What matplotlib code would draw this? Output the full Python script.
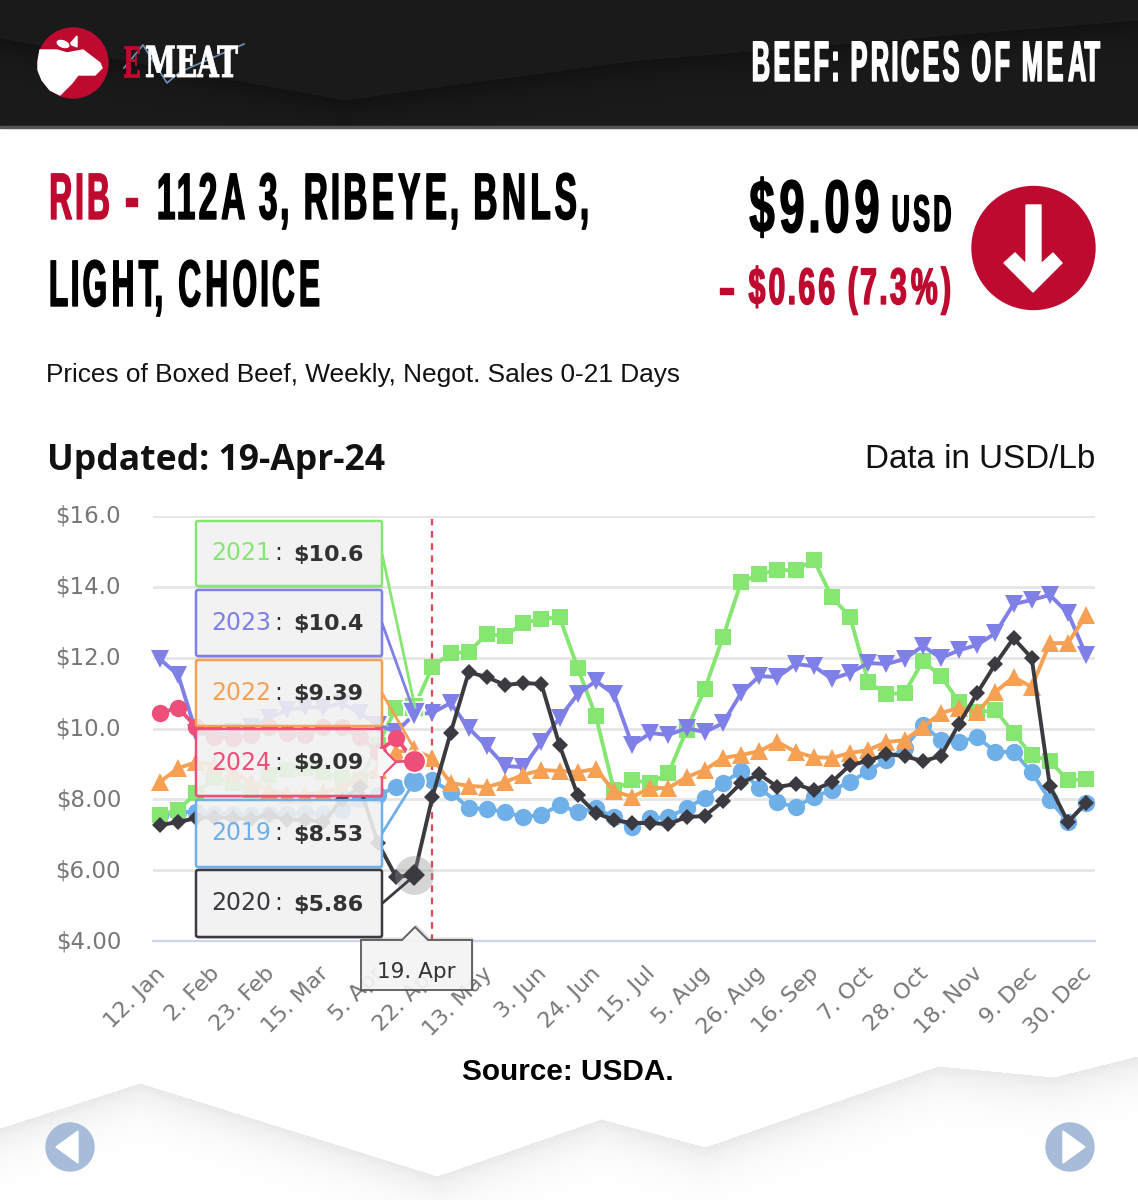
import numpy as np
import matplotlib
matplotlib.use("Agg")
import matplotlib.pyplot as plt
import matplotlib.patheffects as pe
from matplotlib.path import Path
from matplotlib.patches import Polygon, Circle, Ellipse, Rectangle, FancyBboxPatch
from matplotlib.transforms import Affine2D

weeks = np.arange(52)
tick_labels = ["12. Jan", "2. Feb", "23. Feb", "15. Mar", "5. Apr", "22. Apr", "13. May", "3. Jun", "24. Jun",
               "15. Jul", "5. Aug", "26. Aug", "16. Sep", "7. Oct", "28. Oct", "18. Nov", "9. Dec", "30. Dec"]
y_ticks = [4, 6, 8, 10, 12, 14, 16]
y_labels = ["$4.00", "$6.00", "$8.00", "$10.0", "$12.0", "$14.0", "$16.0"]

p2019 = [7.56, 7.64, 7.64, 7.6, 7.6, 7.55, 7.58, 7.6, 7.62, 7.6, 7.7, 8.0, 8.12, 8.35, 8.53, 8.54, 8.21, 7.75, 7.73,
         7.64, 7.5, 7.56, 7.84, 7.64, 7.75, 7.5, 7.22, 7.47, 7.5, 7.75, 8.04, 8.46, 8.8, 8.32, 7.92, 7.78, 8.07, 8.26,
         8.49, 8.8, 9.11, 9.45, 10.1, 9.67, 9.62, 9.76, 9.34, 9.34, 8.77, 7.98, 7.36, 7.9]
p2020 = [7.27, 7.36, 7.47, 7.5, 7.47, 7.44, 7.56, 7.42, 7.42, 7.36, 7.98, 8.35, 6.77, 5.81, 5.86, 8.07, 9.87, 11.59,
         11.45, 11.23, 11.28, 11.26, 9.53, 8.12, 7.61, 7.42, 7.33, 7.33, 7.3, 7.5, 7.53, 7.95, 8.46, 8.71, 8.35, 8.43,
         8.26, 8.49, 8.97, 9.08, 9.28, 9.22, 9.08, 9.22, 10.13, 11.0, 11.82, 12.55, 11.99, 8.38, 7.36, 7.9]
p2021 = [7.56, 7.7, 8.18, 8.6, 8.46, 8.26, 8.69, 8.83, 8.88, 8.77, 8.6, 8.55, 9.53, 10.58, 10.6, 11.74, 12.13, 12.16,
         12.67, 12.61, 12.98, 13.09, 13.15, 11.71, 10.35, 8.26, 8.54, 8.46, 8.74, 9.96, 11.11, 12.58, 14.13, 14.36,
         14.47, 14.47, 14.76, 13.71, 13.15, 11.31, 10.97, 11.0, 11.9, 11.48, 10.75, 10.46, 10.52, 9.87, 9.25, 9.08,
         8.54, 8.57]
p2022 = [8.49, 8.88, 9.05, 8.97, 8.77, 8.49, 8.26, 8.12, 8.12, 8.21, 8.32, 8.6, 8.83, 9.34, 9.39, 9.17, 8.46, 8.38,
         8.35, 8.49, 8.69, 8.83, 8.8, 8.77, 8.86, 8.23, 8.07, 8.32, 8.32, 8.63, 8.83, 9.17, 9.25, 9.36, 9.62, 9.34,
         9.19, 9.17, 9.31, 9.39, 9.62, 9.67, 10.04, 10.44, 10.58, 10.46, 11.03, 11.45, 11.17, 12.41, 12.41, 13.2]
p2023 = [11.96, 11.51, 9.87, 9.82, 9.9, 10.04, 10.3, 10.52, 10.61, 10.58, 10.72, 10.44, 10.1, 9.9, 10.4, 10.44, 10.72,
         10.01, 9.5, 8.94, 8.91, 9.62, 10.3, 10.97, 11.34, 10.97, 9.53, 9.87, 9.82, 10.01, 9.9, 10.15, 11.0, 11.48,
         11.45, 11.82, 11.76, 11.4, 11.57, 11.85, 11.82, 11.96, 12.33, 11.99, 12.21, 12.36, 12.69, 13.51, 13.63, 13.77,
         13.26, 12.07]
p2024 = [10.44, 10.58, 10.04, 9.76, 9.73, 9.82, 10.04, 9.87, 9.82, 10.04, 10.04, 9.76, 9.34, 9.73, 9.09]

c2019, c2020, c2021, c2022, c2023, c2024 = "#6fb0e8", "#3a3a40", "#86e672", "#f5a053", "#7f7fe8", "#ee4f78"
red = "#bf0a30"

W, H = 1138, 1200
fig = plt.figure(figsize=(W / 100, H / 100), dpi=100, facecolor="white")


def thin_glyphs(tpath, g):
    # narrows each glyph about its own centre, which opens the gaps between letters
    v = tpath.vertices.copy()
    starts = np.flatnonzero(tpath.codes == Path.MOVETO).tolist() + [len(v)]
    parts = []
    for a, b in zip(starts[:-1], starts[1:]):
        keep = tpath.codes[a:b] != Path.CLOSEPOLY
        parts.append((v[a:b][keep, 0].min(), v[a:b][keep, 0].max(), a, b))
    parts.sort()
    i = 0
    while i < len(parts):
        lo, hi = parts[i][:2]
        j = i + 1
        while j < len(parts) and parts[j][0] < hi:
            hi = max(hi, parts[j][1])
            j += 1
        c = (lo + hi) / 2
        for _, _, a, b in parts[i:j]:
            v[a:b, 0] = c + (v[a:b, 0] - c) * g
        i = j
    return Path(v, tpath.codes)


# squeezes a text sideways so a wide font can stand in for the poster font
class Squeeze(pe.AbstractPathEffect):
    def __init__(self, x0, sx, stroke=0.0, g=1.0):
        super().__init__()
        self.x0, self.sx, self.stroke, self.g = x0, sx, stroke, g

    def draw_path(self, renderer, gc, tpath, affine, rgbFace=None):
        t = affine + Affine2D().translate(-self.x0, 0).scale(self.sx, 1).translate(self.x0, 0)
        gc2 = renderer.new_gc()
        gc2.copy_properties(gc)
        gc2.set_linewidth(self.stroke)
        gc2.set_foreground(rgbFace)
        renderer.draw_path(gc2, thin_glyphs(tpath, self.g), t, rgbFace)
        gc2.restore()


def fit_text(ax, x0, x1, base, cap, s, color, family="Liberation Sans", weight="bold", stroke=1.0, g=0.84):
    size = cap / 0.70 * 0.72
    t = ax.text(x0, base, s, color=color, fontsize=size, family=family, weight=weight, ha="left", va="baseline")
    box = t.get_window_extent(fig.canvas.get_renderer())
    t.set_path_effects([Squeeze(box.x0, (x1 - x0) / box.width, stroke, g)])
    return t


def shade_below(ax, xs, ys, y0, y1, base, strength, reach):
    # soft shadow that fades away under a zigzag line
    grid_x = np.arange(W)
    line = np.interp(grid_x, xs, ys)
    rows = np.arange(y0, y1)[:, None]
    d = rows - line[None, :]
    img = np.where(d >= 0, base - strength * np.exp(-d / reach), base)
    ax.imshow(img, extent=(0, W, y1, y0), cmap="gray", vmin=0, vmax=1, aspect="auto", zorder=0, interpolation="bilinear")


# page furniture, in pixel coordinates
bg = fig.add_axes([0, 0, 1, 1], zorder=0)
shade_below(bg, [0, 345, 400, 640, 1138], [38, 100, 92, 60, 20], 0, 126, 0.105, 0.035, 18)
bg.add_patch(Rectangle((0, 126), W, 2, color="#555555", zorder=1))
shade_below(bg, [0, 140, 437, 601, 705, 938, 1054, 1138], [1128, 1083, 1176, 1119, 1147, 1066, 1077, 1056],
            1040, 1200, 1.0, 0.09, 22)
bg.set_xlim(0, W)
bg.set_ylim(H, 0)
bg.axis("off")

# logo
bg.add_patch(Circle((73, 63), 35, color=red, zorder=2))
cow = [(38, 62), (40, 50), (57, 50), (67, 53), (83, 50), (100, 63), (102, 68), (95, 75), (78, 75), (72, 83), (60, 95),
       (50, 90), (42, 80), (38, 70)]
bg.add_patch(Polygon(cow, color="white", zorder=3))
bg.add_patch(Ellipse((63, 44), 15, 9, angle=20, fc="white", ec=red, lw=1, zorder=4))
bg.add_patch(Polygon([(70, 44), (77, 36), (77, 47)], color="white", zorder=3))
bg.plot([124, 143, 167, 180, 244], [68, 45, 83, 72, 44], color="#6f93b8", lw=1.2, zorder=3)
fit_text(bg, 123, 140, 77, 30, "E", red, family="DejaVu Serif", stroke=0.6, g=1).set_zorder(4)
fit_text(bg, 145, 238, 77, 30, "MEAT", "white", family="DejaVu Serif", stroke=0.6, g=1).set_zorder(4)

fit_text(bg, 750, 1103, 81, 40, "BEEF: PRICES OF MEAT", "white")

fit_text(bg, 47, 112, 219, 46, "RIB", red)
fit_text(bg, 124, 139, 219, 46, "-", red, g=1)
fit_text(bg, 155, 590, 219, 46, "112A 3, RIBEYE, BNLS,", "black")
fit_text(bg, 47, 322, 306, 46, "LIGHT, CHOICE", "black")
fit_text(bg, 747, 882, 232, 52, "$9.09", "black")
fit_text(bg, 890, 953, 231, 36, "USD", "black")
fit_text(bg, 718, 735, 304, 36, "-", red, g=1)
fit_text(bg, 747, 952, 304, 36, "$0.66 (7.3%)", red)
bg.add_patch(Circle((1033.5, 248), 61.5, color=red, zorder=2))
bg.add_patch(Polygon([(1026, 205), (1041, 205), (1041, 264), (1053, 253), (1062, 263), (1033, 292), (1004, 263),
                      (1015, 253), (1026, 264)], color="white", zorder=3))

bg.text(46, 382, "Prices of Boxed Beef, Weekly, Negot. Sales 0-21 Days", fontsize=18.9, family="Liberation Sans",
        color="#111111")
bg.text(47, 470, "Updated: 19-Apr-24", fontsize=25.6, family="Open Sans", weight="bold", color="#111111")
bg.text(1095, 468, "Data in USD/Lb", fontsize=23.9, family="Liberation Sans", color="#111111", ha="right")
bg.text(568, 1080, "Source: USDA.", fontsize=21.4, family="Liberation Sans", weight="bold", color="black", ha="center")

for cx, tri in [(70, [(78, 1131), (78, 1163), (56, 1147)]), (1070, [(1063, 1131), (1063, 1163), (1085, 1147)])]:
    bg.add_patch(Circle((cx, 1147), 24, color="#a6bcd9", zorder=2))
    bg.add_patch(Polygon(tri, color="white", zorder=3))

# chart axes: $4 sits on pixel row 941, $16 on row 516, week 0 on column 160
left, right, top, bottom = 153, 1095, 516, 941
ax = fig.add_axes([left / W, 1 - bottom / H, (right - left) / W, (bottom - top) / H], zorder=1)
ax.patch.set_alpha(0)
ax.set_xlim((left - 160) / 18.16, (right - 160) / 18.16)
ax.set_ylim(4, 16)
for s in ax.spines.values():
    s.set_visible(False)
ax.spines["bottom"].set_visible(True)
ax.spines["bottom"].set_color("#ccd6eb")
ax.spines["bottom"].set_linewidth(1.6)
ax.set_yticks(y_ticks, y_labels, fontsize=16.5, color="#777777")
ax.set_xticks(weeks[::3], tick_labels, fontsize=16, color="#777777", rotation=45, ha="right", rotation_mode="anchor")
ax.tick_params(length=0, axis="both")
ax.tick_params(axis="y", pad=23)
ax.tick_params(axis="x", pad=16)
for lab in ax.get_xticklabels():
    lab.set_transform(lab.get_transform() + Affine2D().translate(-5, 0))
for lab in ax.get_yticklabels():
    lab.set_transform(lab.get_transform() + Affine2D().translate(0, 2))
ax.grid(axis="y", color="#e6e6e6", lw=2)
ax.set_axisbelow(True)
ax.axvline(15, color="#e0485a", lw=1.6, ls=(0, (3, 2.5)), zorder=1.5)

series = [(p2019, c2019, "o", 12.5), (p2021, c2021, "s", 11), (p2023, c2023, "v", 13.5), (p2022, c2022, "^", 13.5),
          (p2020, c2020, "D", 8.5), (p2024, c2024, "o", 12.5)]
for k, (vals, col, mk, ms) in enumerate(series):
    xs = weeks[:len(vals)]
    ax.plot(xs, vals, color=col, lw=2.8, marker=mk, ms=ms, mew=0, zorder=3 + k * 0.1, clip_on=False)
    # hovered point at 19 Apr
    edge = "white" if mk != "D" else "none"
    ax.plot(xs[14], vals[14], marker=mk, ms=ms * 1.3, color=col, mec=edge, mew=1.2, zorder=3.7 + k * 0.01,
            clip_on=False)
ax.plot(14, p2020[14], marker="o", ms=28, color="#888888", alpha=0.35, mew=0, zorder=3.6)

# tooltips, in pixel coordinates above the chart
ov = fig.add_axes([0, 0, 1, 1], zorder=2)
ov.patch.set_alpha(0)
ov.set_xlim(0, W)
ov.set_ylim(H, 0)
ov.axis("off")

boxes = [("2021", "$10.6", p2021, c2021, 521, 586), ("2023", "$10.4", p2023, c2023, 590, 656),
         ("2022", "$9.39", p2022, c2022, 660, 726), ("2019", "$8.53", p2019, c2019, 800, 867),
         ("2020", "$5.86", p2020, c2020, 870, 937), ("2024", "$9.09", p2024, c2024, 729, 796)]
to_px = lambda v: 941 - (v - 4) * 425 / 12
for n, (year, price, vals, col, y0, y1) in enumerate(boxes):
    z = 2 + n
    ov.plot([382, 415], [(y0 + y1) / 2, to_px(vals[14])], color=col, lw=2.0, zorder=z)
    ov.add_patch(Rectangle((198, y0 + 2), 185, y1 - y0, color="#555555", alpha=0.22, lw=0, zorder=z))
    ov.add_patch(FancyBboxPatch((196, y0), 186, y1 - y0, boxstyle="round,pad=0,rounding_size=2", fc="#f7f7f7",
                                ec="none", alpha=0.86, zorder=z))
    ov.add_patch(FancyBboxPatch((196, y0), 186, y1 - y0, boxstyle="round,pad=0,rounding_size=2", fc="none",
                                ec=col, lw=1.8, zorder=z))
    base = (y0 + y1) / 2 + 7
    ov.text(211, base, year, color=col, fontsize=17, family="DejaVu Sans", zorder=z)
    ov.text(274, base, ":", color="#333333", fontsize=17, family="DejaVu Sans", zorder=z)
    ov.text(293, base, price, color="#333333", fontsize=16, family="DejaVu Sans", weight="bold", zorder=z)
# pointer of the 2024 box
ov.add_patch(Polygon([(381, 747), (396, 762), (381, 777)], fc="#f7f7f7", ec=c2024, lw=1.6, zorder=8))
ov.add_patch(Rectangle((378, 749), 4, 26, color="#f7f7f7", zorder=8))

# date flag
flag = [(361, 940), (402, 940), (415, 927), (428, 940), (472, 940), (472, 990), (361, 990)]
ov.add_patch(Polygon(flag, closed=True, fc="#555555", alpha=0.2, lw=0, zorder=9,
                     transform=Affine2D().translate(1.5, -2.5) + ov.transData))
ov.add_patch(Polygon(flag, closed=True, fc="#f7f7f7", alpha=0.9, ec="#555555", lw=1.4, zorder=9))
ov.text(377, 978, "19. Apr", fontsize=15.5, color="#333333", family="DejaVu Sans", zorder=10)

fig.savefig("out.png", dpi=100)
